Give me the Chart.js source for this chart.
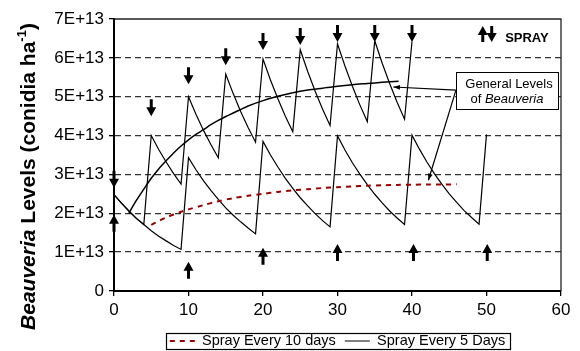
<!DOCTYPE html>
<html>
<head>
<meta charset="utf-8">
<title>Beauveria levels</title>
<script src="https://cdn.jsdelivr.net/npm/chart.js@4.4.0/dist/chart.umd.min.js"></script>
<style>
  html, body { margin: 0; padding: 0; background: #fff; }
  #wrap { width: 580px; height: 351px; }
</style>
</head>
<body>
<div id="wrap"><canvas id="chart" width="580" height="351"></canvas></div>
<script>
// levels are in units of 1E+13 conidia per ha
const days10 = [0, 1, 2, 3, 4, 5, 6, 7, 8, 9,
  10, 11, 12, 13, 14, 15, 16, 17, 18, 19,
  20, 21, 22, 23, 24, 25, 26, 27, 28, 29,
  30, 31, 32, 33, 34, 35, 36, 37, 38, 39,
  40, 41, 42, 43, 44, 45, 46, 47, 48, 49, 50];
const spray10 = [2.48, 2.26, 2.06, 1.87, 1.71, 1.55, 1.41, 1.29, 1.17, 1.07,
  3.43, 3.12, 2.84, 2.59, 2.36, 2.14, 1.95, 1.78, 1.62, 1.47,
  3.85, 3.50, 3.19, 2.90, 2.64, 2.40, 2.19, 1.99, 1.81, 1.65,
  3.99, 3.63, 3.30, 3.01, 2.74, 2.49, 2.27, 2.06, 1.88, 1.71,
  4.01, 3.65, 3.32, 3.02, 2.75, 2.50, 2.28, 2.07, 1.89, 1.72, 4.03];

const days5 = [0, 1, 2, 3, 4, 5, 6, 7, 8, 9,
  10, 11, 12, 13, 14, 15, 16, 17, 18, 19,
  20, 21, 22, 23, 24, 25, 26, 27, 28, 29,
  30, 31, 32, 33, 34, 35, 36, 37, 38, 39, 40];
const spray5 = [2.48, 2.26, 2.06, 1.87, 1.71, 4.00, 3.64, 3.32, 3.02, 2.75,
  5.00, 4.55, 4.14, 3.77, 3.43, 5.58, 5.08, 4.62, 4.21, 3.83,
  5.97, 5.43, 4.95, 4.50, 4.10, 6.21, 5.65, 5.14, 4.68, 4.26,
  6.36, 5.79, 5.27, 4.79, 4.36, 6.44, 5.86, 5.34, 4.86, 4.42, 6.42];

// general levels of Beauveria
const generalDays5 = [2, 3, 4, 5, 6, 7, 8, 9, 10, 11, 12, 13, 14, 15, 16, 17, 18, 20, 22, 24, 26, 28, 30, 32, 34, 36, 38.2];
const general5 = [2.00, 2.33, 2.62, 2.90, 3.14, 3.35, 3.55, 3.73, 3.89, 4.03, 4.15, 4.28, 4.39, 4.49, 4.58, 4.67, 4.76, 4.90, 5.01, 5.10, 5.17, 5.22, 5.27, 5.31, 5.34, 5.37, 5.40];
const generalDays10 = [5, 6, 7, 8, 9, 10, 12, 14, 16, 18, 20, 22, 24, 26, 28, 30, 32, 34, 36, 38, 40, 42, 44, 46];
const general10 = [1.70, 1.80, 1.89, 1.97, 2.04, 2.10, 2.21, 2.31, 2.39, 2.45, 2.50, 2.55, 2.59, 2.62, 2.65, 2.67, 2.69, 2.71, 2.72, 2.73, 2.735, 2.74, 2.74, 2.745];

const yTickLabels = ['0', '1E+13', '2E+13', '3E+13', '4E+13', '5E+13', '6E+13', '7E+13'];

// spray markers: day and arrow tip level
const downArrowDays = [0, 5, 10, 15, 20, 25, 30, 35, 40];
const downArrowTips = [2.66, 4.50, 5.32, 5.81, 6.20, 6.33, 6.41, 6.41, 6.41];
const upArrowDays = [0, 10, 20, 30, 40.2, 50.1];
const upArrowTips = [1.96, 0.75, 1.11, 1.21, 1.21, 1.21];

const FONT = '"Liberation Sans", Arial, Helvetica, sans-serif';
Chart.defaults.font.family = FONT;
Chart.defaults.color = '#000';

function pts(xs, ys) {
  return xs.map((d, i) => ({ x: d, y: ys[i] }));
}

function blockArrow(ctx, x, tipY, dir, len) {
  // dir 1 = points down, -1 = points up
  const head = 9, headW = 10, shaft = 3;
  const baseY = tipY - dir * len;
  const neckY = tipY - dir * head;
  ctx.beginPath();
  ctx.moveTo(x - shaft / 2, baseY);
  ctx.lineTo(x + shaft / 2, baseY);
  ctx.lineTo(x + shaft / 2, neckY);
  ctx.lineTo(x + headW / 2, neckY);
  ctx.lineTo(x, tipY);
  ctx.lineTo(x - headW / 2, neckY);
  ctx.lineTo(x - shaft / 2, neckY);
  ctx.closePath();
  ctx.fill();
}

function pointer(ctx, x1, y1, x2, y2) {
  ctx.beginPath();
  ctx.moveTo(x1, y1);
  ctx.lineTo(x2, y2);
  ctx.stroke();
  const a = Math.atan2(y2 - y1, x2 - x1);
  ctx.beginPath();
  ctx.moveTo(x2, y2);
  ctx.lineTo(x2 - 7 * Math.cos(a - 0.35), y2 - 7 * Math.sin(a - 0.35));
  ctx.lineTo(x2 - 7 * Math.cos(a + 0.35), y2 - 7 * Math.sin(a + 0.35));
  ctx.closePath();
  ctx.fill();
}

const extras = {
  id: 'extras',
  afterLayout(chart) {
    // put the legend under the plot, centred on the plot area
    const lg = chart.legend;
    const a = chart.chartArea;
    const dy = 341 - (lg.top + lg.options.labels.padding + 7.25);
    lg.top += dy; lg.bottom += dy;
    lg.left = a.left; lg.right = a.right; lg.width = a.right - a.left;
  },
  afterDraw(chart) {
    const { ctx, chartArea: a, scales: { x, y } } = chart;
    ctx.save();

    // plot frame (top and right)
    ctx.strokeStyle = '#222';
    ctx.lineWidth = 1.3;
    ctx.beginPath();
    ctx.moveTo(a.left, a.top);
    ctx.lineTo(a.right, a.top);
    ctx.lineTo(a.right, a.bottom);
    ctx.stroke();

    // spray arrows
    ctx.fillStyle = '#000';
    downArrowDays.forEach((d, i) => blockArrow(ctx, x.getPixelForValue(d), y.getPixelForValue(downArrowTips[i]), 1, 17));
    upArrowDays.forEach((d, i) => blockArrow(ctx, x.getPixelForValue(d), y.getPixelForValue(upArrowTips[i]), -1, 17));

    // SPRAY key
    blockArrow(ctx, x.getPixelForValue(49.5), y.getPixelForValue(6.82), -1, 16);
    blockArrow(ctx, x.getPixelForValue(50.7), y.getPixelForValue(6.41), 1, 16);
    ctx.font = 'bold 13px ' + FONT;
    ctx.textBaseline = 'alphabetic';
    ctx.textAlign = 'left';
    ctx.fillText('SPRAY', x.getPixelForValue(52.5), y.getPixelForValue(6.41));

    // note box
    const bx0 = x.getPixelForValue(45.9), bx1 = x.getPixelForValue(59.6);
    const by0 = y.getPixelForValue(5.63), by1 = y.getPixelForValue(4.68);
    const ax = bx0, ay = y.getPixelForValue(5.17);
    ctx.strokeStyle = '#000';
    ctx.lineWidth = 1.2;
    pointer(ctx, ax, ay, x.getPixelForValue(37.5), y.getPixelForValue(5.25));
    pointer(ctx, ax, ay, x.getPixelForValue(42.2), y.getPixelForValue(2.85));
    ctx.fillStyle = '#fff';
    ctx.fillRect(bx0, by0, bx1 - bx0, by1 - by0);
    ctx.lineWidth = 1;
    ctx.strokeRect(Math.round(bx0) + 0.5, Math.round(by0) + 0.5, Math.round(bx1 - bx0), Math.round(by1 - by0));
    ctx.fillStyle = '#000';
    ctx.textAlign = 'center';
    const cx = (bx0 + bx1) / 2;
    ctx.font = '13px ' + FONT;
    ctx.fillText('General Levels', cx + 2, by0 + 16);
    const w1 = ctx.measureText('of ').width;
    ctx.font = 'italic 13px ' + FONT;
    const w2 = ctx.measureText('Beauveria').width;
    ctx.textAlign = 'left';
    const sx = cx - (w1 + w2) / 2;
    ctx.font = '13px ' + FONT;
    ctx.fillText('of ', sx, by0 + 31);
    ctx.font = 'italic 13px ' + FONT;
    ctx.fillText('Beauveria', sx + w1, by0 + 31);

    // legend frame
    const hb = chart.legend.legendHitBoxes;
    if (hb && hb.length) {
      const l = hb[0].left - 4;
      const r = hb[hb.length - 1].left + hb[hb.length - 1].width + 5;
      const cy = hb[0].top + hb[0].height / 2;
      ctx.strokeStyle = '#000';
      ctx.lineWidth = 1.2;
      ctx.strokeRect(Math.round(l) + 0.5, Math.round(cy - 8) + 0.5, Math.round(r - l), 16);
    }

    // y axis title
    const parts = [
      { t: 'Beauveria', f: 'italic bold 21px ' + FONT, dy: 0 },
      { t: ' Levels (conidia ha', f: 'bold 21px ' + FONT, dy: 0 },
      { t: '-1', f: 'bold 13px ' + FONT, dy: -9 },
      { t: ')', f: 'bold 21px ' + FONT, dy: 0 }
    ];
    let total = 0;
    parts.forEach(p => { ctx.font = p.f; p.w = ctx.measureText(p.t).width; total += p.w; });
    ctx.translate(35, 176.5);
    ctx.rotate(-Math.PI / 2);
    ctx.textAlign = 'left';
    let px = -total / 2;
    parts.forEach(p => { ctx.font = p.f; ctx.fillText(p.t, px, p.dy); px += p.w; });

    ctx.restore();
  }
};

new Chart(document.getElementById('chart'), {
  type: 'line',
  data: {
    datasets: [
      {
        label: 'Spray Every 10 days',
        data: pts(generalDays10, general10),
        borderColor: '#990000',
        borderWidth: 2,
        borderDash: [5, 5],
        pointRadius: 0,
        tension: 0.3
      },
      {
        label: 'Spray Every 5 Days',
        data: pts(days5, spray5),
        borderColor: '#000',
        borderWidth: 1.2,
        pointRadius: 0,
        tension: 0
      },
      {
        label: 'spray10',
        data: pts(days10, spray10),
        borderColor: '#000',
        borderWidth: 1.2,
        pointRadius: 0,
        tension: 0
      },
      {
        label: 'general5',
        data: pts(generalDays5, general5),
        borderColor: '#000',
        borderWidth: 1.5,
        pointRadius: 0,
        tension: 0.3
      }
    ]
  },
  options: {
    responsive: false,
    animation: false,
    events: [],
    layout: { padding: { left: 0, right: 19, top: 19, bottom: 0 } },
    plugins: {
      tooltip: { enabled: false },
      legend: {
        position: 'bottom',
        labels: {
          font: { size: 14.5 },
          color: '#000',
          usePointStyle: true,
          pointStyle: 'line',
          pointStyleWidth: 25,
          padding: 9,
          generateLabels: chart => Chart.defaults.plugins.legend.labels.generateLabels(chart).map(item => {
            const ds = chart.data.datasets[item.datasetIndex];
            item.lineDash = ds.borderDash || [];
            item.lineWidth = ds.borderWidth;
            item.strokeStyle = ds.borderColor;
            return item;
          }),
          filter: item => item.datasetIndex < 2
        }
      }
    },
    scales: {
      x: {
        type: 'linear',
        min: 0,
        max: 60,
        ticks: { stepSize: 10, font: { size: 17 }, color: '#000', padding: 4 },
        grid: { drawOnChartArea: false, tickLength: 5, color: '#000', lineWidth: 1.3 },
        border: { color: '#000', width: 2 },
        afterFit: s => { s.height = 351 - 291 - s.chart.legend.height; }
      },
      y: {
        min: 0,
        max: 7,
        ticks: {
          stepSize: 1,
          font: { size: 17 },
          color: '#000',
          padding: 5,
          callback: v => yTickLabels[Math.round(v)]
        },
        grid: {
          color: c => (c.tick && (c.tick.value === 0 || c.tick.value === 7)) ? 'rgba(0,0,0,0)' : '#333',
          lineWidth: 1.3,
          tickLength: 5,
          tickColor: '#000'
        },
        border: { color: '#000', width: 2, dash: [6, 4] },
        afterFit: s => { s.width = 114; }
      }
    }
  },
  plugins: [extras]
});
</script>
</body>
</html>
